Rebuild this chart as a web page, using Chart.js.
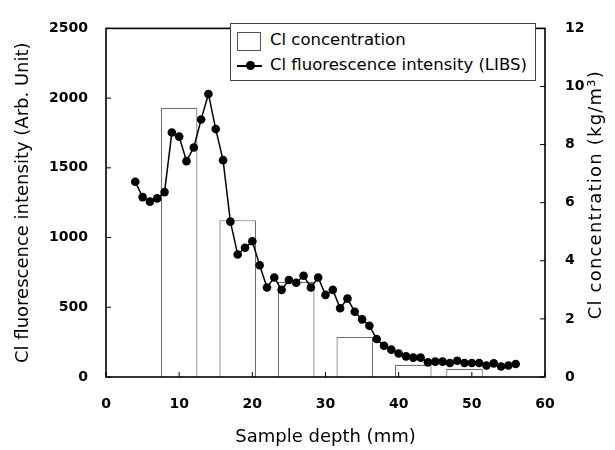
<!DOCTYPE html>
<html>
<head>
<meta charset="utf-8">
<script src="https://cdn.jsdelivr.net/npm/chart.js@4.4.1/dist/chart.umd.min.js"></script>
<style>
  body { margin: 0; background: #fff; }
  #wrap { position: relative; width: 615px; height: 450px; }
  #legend {
    position: absolute; left: 230px; top: 23px; width: 304px; height: 56px;
    border: 1px solid #444; background: #fff;
    font: 16.5px "DejaVu Sans", sans-serif; color: #000;
  }
  #legend .row { position: absolute; left: 39px; white-space: nowrap; line-height: 20px; }
  #legend .box { position: absolute; left: 6px; top: 8px; width: 22px; height: 17px; border: 1px solid #555; }
  #legend .ln { position: absolute; left: 6px; top: 41px; width: 25px; height: 1.5px; background: #000; }
  #legend .dot { position: absolute; left: 15px; top: 37px; width: 9px; height: 9px; border-radius: 50%; background: #000; }
</style>
</head>
<body>
<div id="wrap">
  <canvas id="depthChart" width="615" height="450"></canvas>
  <div id="legend">
    <div class="box"></div>
    <div class="row" style="top:6px">Cl concentration</div>
    <div class="ln"></div><div class="dot"></div>
    <div class="row" style="top:31px">Cl fluorescence intensity (LIBS)</div>
  </div>
</div>
<script>
// LIBS measurement, one point per mm
const depth = [4, 5, 6, 7, 8, 9, 10, 11, 12, 13, 14, 15, 16, 17, 18, 19, 20, 21, 22, 23,
  24, 25, 26, 27, 28, 29, 30, 31, 32, 33, 34, 35, 36, 37, 38, 39, 40, 41, 42, 43,
  44, 45, 46, 47, 48, 49, 50, 51, 52, 53, 54, 55, 56];
const intensity = [1400, 1290, 1258, 1281, 1326, 1753, 1724, 1548, 1646, 1847, 2030, 1778, 1555, 1114, 879, 927, 973, 801, 642, 714,
  625, 696, 676, 726, 642, 714, 589, 625, 493, 562, 468, 413, 367, 272, 224, 196, 169, 148, 139, 139,
  105, 110, 110, 100, 116, 100, 100, 100, 82, 98, 75, 82, 93];

// chemical analysis of sliced samples (kg/m3), each slice 5 mm thick
const sliceCenter = [10, 18, 26, 34, 42, 49];
const concentration = [9.27, 5.40, 3.28, 1.38, 0.42, 0.28];

const leftTitle = "Cl fluorescence intensity (Arb. Unit)";
const rightTitle = "Cl concentration (kg/m\u00B3)";
const xTitle = "Sample depth (mm)";

const tickFont = { family: "DejaVu Sans", size: 14, weight: "bold" };
const titleFont = { family: "DejaVu Sans", size: 18 };
const plainNumber = (v) => String(v);

// inward tick marks, plot frame and the right-hand title (reads bottom to top)
const frameAndTicks = {
  id: "frameAndTicks",
  afterDraw(chart) {
    const { ctx, chartArea: a, scales } = chart;
    ctx.save();
    ctx.strokeStyle = "#000";
    ctx.lineWidth = 1;
    ctx.beginPath();
    scales.x.ticks.forEach((t) => {
      const px = scales.x.getPixelForValue(t.value);
      ctx.moveTo(px, a.bottom);
      ctx.lineTo(px, a.bottom - 5);
    });
    scales.y.ticks.forEach((t) => {
      const py = scales.y.getPixelForValue(t.value);
      ctx.moveTo(a.left, py);
      ctx.lineTo(a.left + 5, py);
    });
    scales.y1.ticks.forEach((t) => {
      const py = scales.y1.getPixelForValue(t.value);
      ctx.moveTo(a.right, py);
      ctx.lineTo(a.right - 5, py);
    });
    ctx.stroke();
    ctx.lineWidth = 1.6;
    ctx.strokeRect(a.left, a.top, a.right - a.left, a.bottom - a.top);

    ctx.translate(scales.y1.right - 19, (a.top + a.bottom) / 2 - 8);
    ctx.rotate(-Math.PI / 2);
    ctx.font = '18px "DejaVu Sans"';
    ctx.letterSpacing = "1.2px";
    ctx.fillStyle = "#000";
    ctx.textAlign = "center";
    ctx.textBaseline = "middle";
    ctx.fillText(rightTitle, 0, 0);
    ctx.restore();
  }
};

const ctx = document.getElementById("depthChart");

new Chart(ctx, {
  type: "bar",
  data: {
    datasets: [
      {
        type: "line",
        label: "Cl fluorescence intensity (LIBS)",
        data: depth.map((d, i) => ({ x: d, y: intensity[i] })),
        yAxisID: "y",
        borderColor: "#000",
        borderWidth: 1.5,
        pointRadius: 4.3,
        pointBackgroundColor: "#000",
        pointBorderColor: "#000",
        pointBorderWidth: 0,
        tension: 0,
        order: 0
      },
      {
        type: "bar",
        label: "Cl concentration",
        data: sliceCenter.map((d, i) => ({ x: d, y: concentration[i] })),
        yAxisID: "y1",
        backgroundColor: "#fff",
        borderColor: "#6e6e6e",
        borderWidth: 1.2,
        barPercentage: 1,
        categoryPercentage: 5 / 7,
        order: 1
      }
    ]
  },
  options: {
    responsive: false,
    animation: false,
    devicePixelRatio: 1,
    layout: { padding: { top: 12, left: 0, right: 0, bottom: 0 } },
    plugins: {
      legend: { display: false },
      tooltip: { enabled: false }
    },
    scales: {
      x: {
        type: "linear",
        min: 0,
        max: 60,
        offset: false,
        ticks: { stepSize: 10, color: "#000", font: tickFont, padding: 19, maxRotation: 0, callback: plainNumber },
        grid: { display: false, drawTicks: false },
        border: { display: false },
        title: { display: true, text: xTitle, color: "#000", font: titleFont, padding: { top: 0, bottom: 2 } },
        afterFit: (s) => { s.height = 73; }
      },
      y: {
        position: "left",
        min: 0,
        max: 2500,
        ticks: { stepSize: 500, color: "#000", font: tickFont, padding: 18, callback: plainNumber },
        grid: { display: false, drawTicks: false },
        border: { display: false },
        title: { display: true, text: leftTitle, color: "#000", font: titleFont, padding: { top: 13, bottom: 0 } },
        afterFit: (s) => { s.width = 106; }
      },
      y1: {
        position: "right",
        min: 0,
        max: 12,
        ticks: { stepSize: 2, color: "#000", font: tickFont, padding: 20, callback: plainNumber },
        grid: { display: false, drawTicks: false },
        border: { display: false },
        afterFit: (s) => { s.width = 70; }
      }
    }
  },
  plugins: [frameAndTicks]
});
</script>
</body>
</html>
